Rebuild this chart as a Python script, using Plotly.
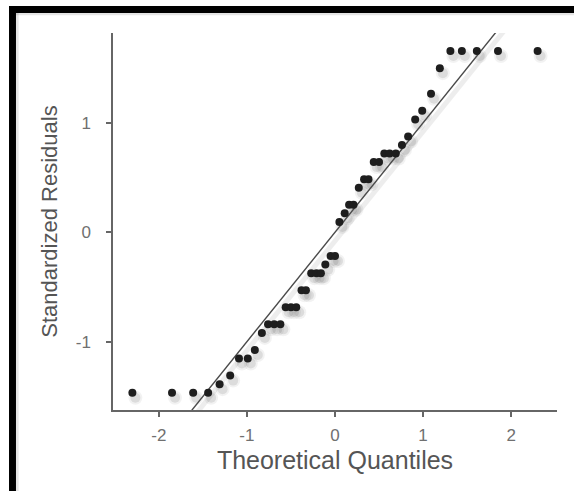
import plotly.graph_objects as go

# Theoretical quantiles (x) and standardized residuals (y)
theoretical_quantiles = [
    -2.30, -1.85, -1.61, -1.44, -1.31, -1.19, -1.09, -0.99, -0.91, -0.83,
    -0.76, -0.69, -0.62, -0.56, -0.50, -0.44, -0.38, -0.33, -0.27, -0.21,
    -0.16, -0.11, -0.05, 0.00,
    0.05, 0.11, 0.16, 0.21, 0.27, 0.33, 0.38, 0.44, 0.50, 0.56,
    0.62, 0.69, 0.76, 0.83, 0.91, 0.99, 1.09, 1.19, 1.31, 1.44,
    1.61, 1.85, 2.30,
]
standardized_residuals = [
    -1.465, -1.465, -1.465, -1.465, -1.387, -1.309, -1.153, -1.153, -1.075, -0.919,
    -0.841, -0.841, -0.841, -0.685, -0.685, -0.685, -0.529, -0.529, -0.373, -0.373,
    -0.373, -0.295, -0.217, -0.217,
    0.095, 0.173, 0.251, 0.251, 0.407, 0.485, 0.485, 0.641, 0.641, 0.719,
    0.719, 0.719, 0.797, 0.875, 1.031, 1.109, 1.265, 1.499, 1.655, 1.655,
    1.655, 1.655, 1.655,
]
# Reference line y = x
ref_line_x = [-3.0, 3.0]
ref_line_y = [-3.0, 3.0]

x_ticks = [-2, -1, 0, 1, 2]
y_ticks = [-1, 0, 1]

# pixel-based styling offsets for the soft drop shadow
PX_PER_X = 88.0
PX_PER_Y = 109.5
sdx, sdy = 3.0 / PX_PER_X, -5.0 / PX_PER_Y

fig = go.Figure()

# line shadow
fig.add_trace(go.Scatter(
    x=[v + sdx for v in ref_line_x], y=[v + sdy for v in ref_line_y],
    mode="lines", line=dict(color="rgba(0,0,0,0.07)", width=5),
    hoverinfo="skip", showlegend=False))
# point shadows (layers to fake blur)
for size, alpha in [(14, 0.05), (10, 0.09)]:
    fig.add_trace(go.Scatter(
        x=[v + sdx for v in theoretical_quantiles],
        y=[v + sdy for v in standardized_residuals],
        mode="markers", marker=dict(size=size, color=f"rgba(0,0,0,{alpha})", line=dict(width=0)),
        hoverinfo="skip", showlegend=False))
# reference line
fig.add_trace(go.Scatter(
    x=ref_line_x, y=ref_line_y, mode="lines",
    line=dict(color="#4a4a4a", width=1.4), showlegend=False))
# points
fig.add_trace(go.Scatter(
    x=theoretical_quantiles, y=standardized_residuals, mode="markers",
    marker=dict(size=8, color="#1e1e1e", line=dict(width=0)), showlegend=False))

font_family = "Liberation Sans, Arial, sans-serif"
axis_common = dict(
    showline=True, linecolor="#666666", linewidth=1.5,
    showgrid=False, zeroline=False, ticks="outside", ticklen=5,
    tickcolor="#666666", tickwidth=1.5,
    tickfont=dict(size=17, color="#707070", family=font_family),
)

fig.update_layout(
    width=574, height=491,
    margin=dict(l=113, r=17, t=33, b=81),
    paper_bgcolor="white", plot_bgcolor="white",
    font=dict(family=font_family, color="#5a5a5a"),
    xaxis=dict(
        **axis_common, range=[-2.52, 2.52], tickvals=x_ticks,
        ticktext=[str(t) for t in x_ticks], ticklabelstandoff=4,
        title=dict(text="Theoretical Quantiles", font=dict(size=25, color="#555555"), standoff=7),
    ),
    yaxis=dict(
        **axis_common, range=[-1.623, 1.82], tickvals=y_ticks,
        ticktext=[str(t) for t in y_ticks], ticklabelstandoff=12,
        title=dict(text="Standardized Residuals", font=dict(size=22, color="#555555"), standoff=12),
    ),
    shapes=[
        # black frame: top band and left band
        dict(type="rect", xref="paper", yref="paper", x0=-0.2342, x1=1.1, y0=1.0531, y1=1.0716,
             fillcolor="black", line=dict(width=0), layer="above"),
        dict(type="rect", xref="paper", yref="paper", x0=-0.2342, x1=-0.2185, y0=-0.25, y1=1.0716,
             fillcolor="black", line=dict(width=0), layer="above"),
        # soft inner shadow of the frame
        dict(type="rect", xref="paper", yref="paper", x0=-0.2185, x1=1.1, y0=1.047, y1=1.0531,
             fillcolor="rgba(0,0,0,0.10)", line=dict(width=0), layer="below"),
        dict(type="rect", xref="paper", yref="paper", x0=-0.2185, x1=-0.2125, y0=-0.25, y1=1.0531,
             fillcolor="rgba(0,0,0,0.10)", line=dict(width=0), layer="below"),
    ],
)

fig.write_html(
    "out.html",
    config={"displayModeBar": False},
    post_script="document.body.style.margin='0';document.body.style.overflow='hidden';",
)
